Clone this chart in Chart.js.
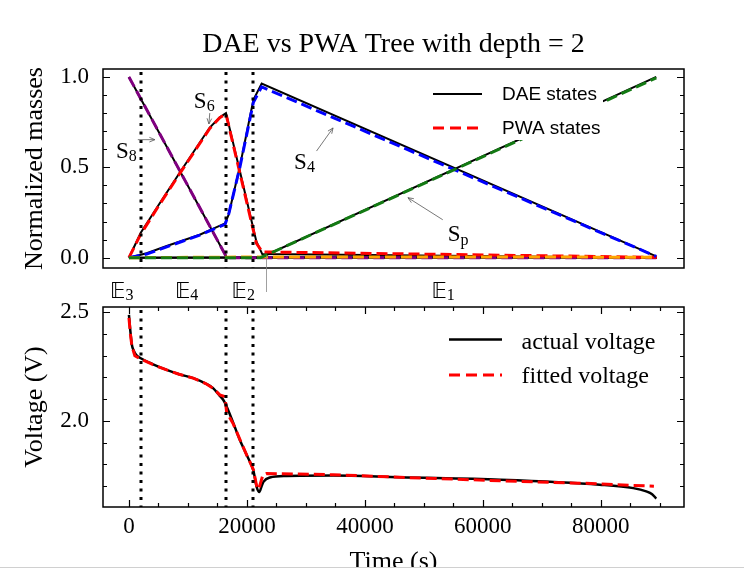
<!DOCTYPE html>
<html>
<head>
<meta charset="utf-8">
<script src="https://cdn.jsdelivr.net/npm/chart.js@4.4.0/dist/chart.umd.min.js"></script>
<style>
	body { margin: 0; background: #fff; }
	#wrap { position: relative; width: 744px; height: 571px; }
	#wrap canvas { position: absolute; left: 0; top: 0; }
</style>
</head>
<body>
<div id="wrap">
	<canvas id="masses" width="744" height="571"></canvas>
	<canvas id="voltage" width="744" height="571"></canvas>
</div>
<script>
// normalized masses, DAE model (solid black) and PWA tree (dashed colour)
var s8Time = [0, 16600, 89500];
var s8Dae  = [1.0, 0.0, 0.0];
var s8Pwa  = [1.0, 0.0, 0.0];

var s6Time = [0, 2000, 5000, 8600, 13700, 15400, 16450, 18800, 21600, 22600, 89500];
var s6Dae  = [0, 0.138, 0.29, 0.47, 0.72, 0.777, 0.80, 0.48, 0.09, 0.02, 0.0];
var s6Pwa  = [0, 0.13, 0.285, 0.465, 0.715, 0.775, 0.795, 0.47, 0.08, 0.032, 0.002];

var s4Time = [0, 3000, 6400, 12000, 16300, 16900, 18800, 21100, 22500, 89400];
var s4Dae  = [0, 0.025, 0.065, 0.127, 0.19, 0.238, 0.505, 0.874, 0.963, 0.007];
var s4Pwa  = [0, 0.02, 0.06, 0.125, 0.185, 0.24, 0.50, 0.86, 0.945, 0.007];

var spTime = [0, 22300, 89400];
var spDae  = [0, 0, 1.0];
var spPwa  = [0, 0, 0.995];

var s2Time = [0, 22000, 89500];
var s2Dae  = [0, 0.003, 0.002];
var s2Pwa  = [0, 0.004, 0.003];

// cell voltage (V)
var vActualTime = [0, 250, 500, 800, 1200, 2000, 4000, 6400, 8500, 10900, 13000, 14300, 15400, 16000, 16450,
	17700, 18800, 20000, 21100, 21650, 22100, 22500, 22800, 23900, 26700, 34600, 45900, 62900, 79800, 85500, 87700, 88700, 89400];
var vActual = [2.489, 2.41, 2.35, 2.325, 2.305, 2.289, 2.262, 2.235, 2.215, 2.197, 2.172, 2.15, 2.115, 2.096, 2.073,
	1.989, 1.912, 1.84, 1.77, 1.696, 1.672, 1.70, 1.719, 1.739, 1.746, 1.748, 1.740, 1.729, 1.706, 1.690, 1.675, 1.662, 1.642];

var vFittedTime = [0, 250, 500, 1000, 2000, 4000, 6400, 8500, 10900, 13000, 14300, 15400, 16270, 16560, 17700,
	18800, 20000, 21100, 21650, 22000, 22700, 23300, 34600, 45900, 62900, 79800, 85000, 89000];
var vFitted = [2.475, 2.40, 2.345, 2.30, 2.285, 2.26, 2.235, 2.215, 2.197, 2.172, 2.15, 2.12, 2.112, 2.04, 1.985,
	1.915, 1.84, 1.775, 1.70, 1.685, 1.75, 1.757, 1.752, 1.740, 1.724, 1.710, 1.703, 1.699];

// switching instants between regions
var eventTimes = [2000, 16500, 21050];
var regionNames = ['3', '4', '2', '1'];
var regionLabelTimes = [-3200, 7800, 17400, 51300];

var xTicks = [0, 20000, 40000, 60000, 80000];
var massTicks = [0, 0.5, 1.0];
var voltTicks = [2.0, 2.5];

var SERIF = '"Liberation Serif", "Times New Roman", serif';
var SANS = '"Liberation Sans", Arial, sans-serif';

function pts(t, y) {
	return t.map(function (v, i) { return { x: v, y: y[i] }; });
}

function dae(t, y) {
	return { data: pts(t, y), borderColor: '#000', borderWidth: 2, pointRadius: 0, tension: 0, fill: false };
}

function pwa(t, y, color) {
	return { data: pts(t, y), borderColor: color, borderWidth: 3, borderDash: [11, 5], pointRadius: 0, tension: 0, fill: false };
}

function range(from, to, step, skip) {
	var out = [];
	for (var i = from; i <= to; i += step) {
		if (skip.indexOf(i) < 0) out.push(i);
	}
	return out;
}

// inward ticks on every side, dotted region boundaries and the box
var framePlugin = {
	id: 'frame',
	afterDatasetsDraw: function (chart, args, o) {
		var a = chart.chartArea, ctx = chart.ctx;
		var xs = chart.scales.x, ys = chart.scales.y;
		ctx.save();

		ctx.strokeStyle = '#000';
		ctx.lineWidth = 3;
		ctx.setLineDash([3, 5.5]);
		eventTimes.forEach(function (t) {
			var px = Math.round(xs.getPixelForValue(t));
			ctx.beginPath();
			ctx.moveTo(px, a.top + 3);
			ctx.lineTo(px, a.bottom);
			ctx.stroke();
		});
		ctx.setLineDash([]);

		ctx.lineWidth = 1.2;
		function tickX(list, len) {
			list.forEach(function (v) {
				var px = Math.round(xs.getPixelForValue(v)) + 0.5;
				ctx.beginPath();
				ctx.moveTo(px, a.bottom); ctx.lineTo(px, a.bottom - len);
				ctx.moveTo(px, a.top); ctx.lineTo(px, a.top + len);
				ctx.stroke();
			});
		}
		function tickY(list, len) {
			list.forEach(function (v) {
				var py = Math.round(ys.getPixelForValue(v)) + 0.5;
				ctx.beginPath();
				ctx.moveTo(a.left, py); ctx.lineTo(a.left + len, py);
				ctx.moveTo(a.right, py); ctx.lineTo(a.right - len, py);
				ctx.stroke();
			});
		}
		tickX(o.xMajor, 7);
		tickX(o.xMinor, 4);
		tickY(o.yMajor, 7);
		tickY(o.yMinor, 4);

		ctx.lineWidth = 1.5;
		ctx.strokeRect(a.left, a.top, a.right - a.left, a.bottom - a.top);
		ctx.restore();
	}
};

function arrow(ctx, x0, y0, x1, y1) {
	var ang = Math.atan2(y1 - y0, x1 - x0), h = 6;
	ctx.beginPath();
	ctx.moveTo(x0, y0);
	ctx.lineTo(x1, y1);
	ctx.moveTo(x1 - h * Math.cos(ang - 0.4), y1 - h * Math.sin(ang - 0.4));
	ctx.lineTo(x1, y1);
	ctx.lineTo(x1 - h * Math.cos(ang + 0.4), y1 - h * Math.sin(ang + 0.4));
	ctx.stroke();
}

function subLabel(ctx, x, y, main, sub) {
	ctx.textAlign = 'left';
	ctx.textBaseline = 'alphabetic';
	ctx.font = '23px ' + SERIF;
	ctx.fillText(main, x, y);
	var w = ctx.measureText(main).width;
	ctx.font = '16px ' + SERIF;
	ctx.fillText(sub, x + w, y + 3.5);
}

function verticalLabel(ctx, text, x, y) {
	ctx.save();
	ctx.translate(x, y);
	ctx.rotate(-Math.PI / 2);
	ctx.textAlign = 'center';
	ctx.textBaseline = 'alphabetic';
	ctx.font = '26px ' + SERIF;
	ctx.fillText(text, 0, 0);
	ctx.restore();
}

var massDecor = {
	id: 'massDecor',
	afterDatasetsDraw: function (chart) {
		var ctx = chart.ctx, xs = chart.scales.x, ys = chart.scales.y;
		ctx.save();
		// legend box sits on top of the curves
		ctx.fillStyle = '#fff';
		ctx.fillRect(424, 76, 179, 64);
		ctx.strokeStyle = '#000';
		ctx.lineWidth = 2;
		ctx.beginPath(); ctx.moveTo(433, 94); ctx.lineTo(482, 94); ctx.stroke();
		ctx.strokeStyle = 'red';
		ctx.lineWidth = 3;
		ctx.setLineDash([11, 6]);
		ctx.beginPath(); ctx.moveTo(433, 128); ctx.lineTo(482, 128); ctx.stroke();
		ctx.setLineDash([]);
		ctx.fillStyle = '#000';
		ctx.font = '19px ' + SANS;
		ctx.textAlign = 'left';
		ctx.textBaseline = 'alphabetic';
		ctx.fillText('DAE states', 502, 99.5);
		ctx.fillText('PWA states', 502, 134);

		// state annotations
		function X(t) { return xs.getPixelForValue(t); }
		function Y(v) { return ys.getPixelForValue(v); }
		ctx.strokeStyle = '#555';
		ctx.lineWidth = 0.8;
		arrow(ctx, X(1500), Y(0.653), X(4400), Y(0.653));
		arrow(ctx, X(13700), Y(0.80), X(13560), Y(0.74));
		arrow(ctx, X(31800), Y(0.59), X(34600), Y(0.718));
		arrow(ctx, X(53200), Y(0.21), X(47300), Y(0.332));
		ctx.strokeStyle = '#888';
		ctx.beginPath(); ctx.moveTo(266.5, Y(0.012)); ctx.lineTo(266.5, 292); ctx.stroke();

		ctx.fillStyle = '#000';
		subLabel(ctx, X(-2200), Y(0.553), 'S', '8');
		subLabel(ctx, X(11000), Y(0.83), 'S', '6');
		subLabel(ctx, X(28000), Y(0.4925), 'S', '4');
		subLabel(ctx, X(54050), Y(0.09), 'S', 'p');
		ctx.restore();
	},
	afterDraw: function (chart) {
		var ctx = chart.ctx, xs = chart.scales.x, ys = chart.scales.y;
		ctx.save();
		ctx.fillStyle = '#000';
		ctx.font = '28px ' + SERIF;
		ctx.textAlign = 'center';
		ctx.textBaseline = 'alphabetic';
		ctx.fillText('DAE vs PWA Tree with depth = 2', 393.5, 52);
		verticalLabel(ctx, 'Normalized masses', 42, 168.5);

		// region names under the upper axes
		regionNames.forEach(function (n, i) {
			var x = xs.getPixelForValue(regionLabelTimes[i]);
			var y = ys.getPixelForValue(-0.223);
			ctx.textAlign = 'left';
			ctx.font = '21px "DejaVu Sans", ' + SERIF;
			ctx.fillText('\u{1D53C}', x, y);
			var w = ctx.measureText('\u{1D53C}').width;
			ctx.font = '16px ' + SERIF;
			ctx.fillText(n, x + w, y + 2);
		});
		ctx.restore();
	}
};

var voltDecor = {
	id: 'voltDecor',
	afterDraw: function (chart) {
		var ctx = chart.ctx;
		ctx.save();
		ctx.strokeStyle = '#000';
		ctx.lineWidth = 2.5;
		ctx.beginPath(); ctx.moveTo(449, 339.5); ctx.lineTo(502, 339.5); ctx.stroke();
		ctx.strokeStyle = 'red';
		ctx.lineWidth = 3;
		ctx.setLineDash([11, 6]);
		ctx.beginPath(); ctx.moveTo(449, 375); ctx.lineTo(502, 375); ctx.stroke();
		ctx.setLineDash([]);
		ctx.fillStyle = '#000';
		ctx.font = '24px ' + SERIF;
		ctx.textAlign = 'left';
		ctx.textBaseline = 'alphabetic';
		ctx.fillText('actual voltage', 521.5, 348.5);
		ctx.fillText('fitted voltage', 521.5, 383);

		verticalLabel(ctx, 'Voltage (V)', 42, 407);
		ctx.font = '26px ' + SERIF;
		ctx.textAlign = 'center';
		ctx.fillText('Time (s)', 393.5, 569);

		ctx.fillStyle = '#fff';
		ctx.fillRect(0, 567, 744, 4);
		ctx.strokeStyle = '#d0d0d0';
		ctx.lineWidth = 1;
		ctx.beginPath(); ctx.moveTo(0, 567.5); ctx.lineTo(744, 567.5); ctx.stroke();
		ctx.restore();
	}
};

function yScale(min, max, ticks) {
	return {
		type: 'linear', min: min, max: max,
		grid: { display: false, drawTicks: false },
		border: { display: false },
		afterFit: function (s) { s.width = 103; },
		afterBuildTicks: function (s) { s.ticks = ticks.map(function (v) { return { value: v }; }); },
		ticks: {
			padding: 14, color: '#000',
			font: { family: SERIF, size: 23 },
			callback: function (v) { return v.toFixed(1); }
		}
	};
}

var common = {
	responsive: false,
	animation: false,
	devicePixelRatio: 1,
	events: [],
	plugins: { legend: { display: false }, tooltip: { enabled: false } }
};

// Chart.js paints dataset 0 last, so the dashed PWA curves come first
new Chart('masses', {
	type: 'line',
	data: {
		datasets: [
			pwa(spTime, spPwa, '#137a13'),
			pwa(s2Time, s2Pwa, '#ffa500'),
			pwa(s4Time, s4Pwa, '#0000ff'),
			pwa(s6Time, s6Pwa, '#ff0000'),
			pwa(s8Time, s8Pwa, '#800080'),
			dae(spTime, spDae), dae(s2Time, s2Dae), dae(s4Time, s4Dae), dae(s6Time, s6Dae), dae(s8Time, s8Dae)
		]
	},
	options: Object.assign({}, common, {
		layout: { padding: { left: 0, right: 60, top: 69, bottom: 303 } },
		scales: {
			x: { type: 'linear', display: false, min: -4400, max: 94100 },
			y: yScale(-0.057, 1.044, massTicks)
		},
		plugins: Object.assign({}, common.plugins, {
			frame: {
				xMajor: [], xMinor: [],
				yMajor: massTicks,
				yMinor: range(1, 9, 1, [5]).map(function (i) { return i / 10; })
			}
		})
	}),
	plugins: [framePlugin, massDecor]
});

new Chart('voltage', {
	type: 'line',
	data: {
		datasets: [
			{ data: pts(vFittedTime, vFitted), borderColor: '#ff0000', borderWidth: 3, borderDash: [11, 5],
				pointRadius: 0, tension: 0, fill: false },
			{ data: pts(vActualTime, vActual), borderColor: '#000', borderWidth: 2.5, pointRadius: 0,
				cubicInterpolationMode: 'monotone', fill: false }
		]
	},
	options: Object.assign({}, common, {
		layout: { padding: { left: 0, right: 60, top: 307, bottom: 0 } },
		scales: {
			x: {
				type: 'linear', min: -4400, max: 94100,
				grid: { display: false, drawTicks: false },
				border: { display: false },
				afterFit: function (s) { s.height = 64; },
				afterBuildTicks: function (s) { s.ticks = xTicks.map(function (v) { return { value: v }; }); },
				ticks: {
					padding: 6, color: '#000', maxRotation: 0,
					font: { family: SERIF, size: 23 },
					callback: function (v) { return String(v); }
				}
			},
			y: yScale(1.603, 2.525, voltTicks)
		},
		plugins: Object.assign({}, common.plugins, {
			frame: {
				xMajor: xTicks,
				xMinor: range(5000, 90000, 5000, xTicks),
				yMajor: voltTicks,
				yMinor: range(17, 24, 1, [20]).map(function (i) { return i / 10; })
			}
		})
	}),
	plugins: [framePlugin, voltDecor]
});
</script>
</body>
</html>
